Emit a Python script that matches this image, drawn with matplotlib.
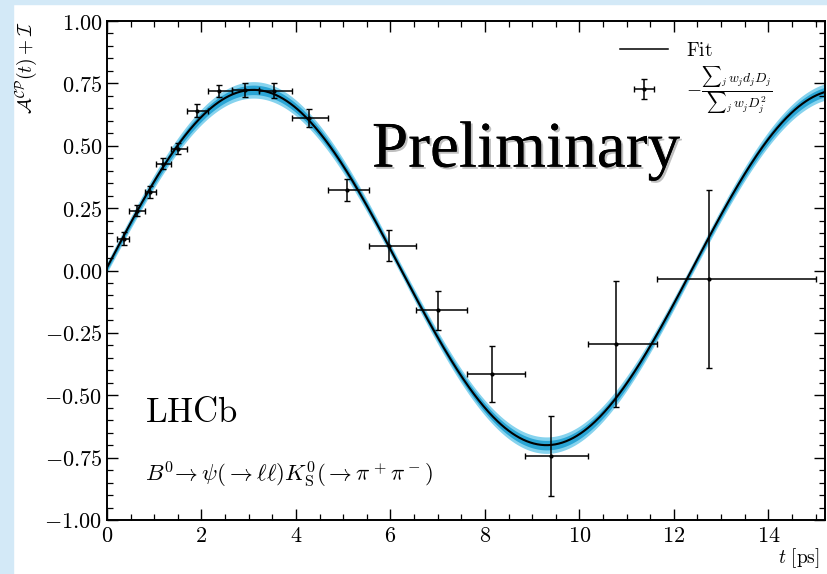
import numpy as np
import matplotlib
matplotlib.use("Agg")
import matplotlib.pyplot as plt
import matplotlib.patheffects as pe
from matplotlib.patches import Rectangle
from matplotlib.ticker import MultipleLocator, FuncFormatter

plt.rcParams['mathtext.fontset'] = 'cm'
plt.rcParams['font.family'] = 'serif'
plt.rcParams['font.serif'] = ['DejaVu Serif']

# data points
t_pts = [0.36, 0.64, 0.92, 1.19, 1.51, 1.91, 2.37, 2.92, 3.53, 4.28, 5.08, 5.98,
         7.01, 8.16, 9.41, 10.77, 12.75]
a_pts = [0.128, 0.240, 0.315, 0.428, 0.488, 0.641, 0.719, 0.724, 0.721, 0.611,
         0.322, 0.100, -0.159, -0.415, -0.744, -0.295, -0.035]
a_err = [0.027, 0.022, 0.023, 0.023, 0.023, 0.025, 0.025, 0.028, 0.031, 0.037,
         0.045, 0.061, 0.078, 0.113, 0.160, 0.252, 0.356]
bin_edges = [0.22, 0.47, 0.80, 1.04, 1.35, 1.70, 2.14, 2.64, 3.22, 3.92, 4.68,
             5.55, 6.55, 7.63, 8.84, 10.18, 11.64, 15.0]

# fit parameters (amplitude, mixing frequency, offset)
fit_amp = 0.712
fit_dm = 0.5065
fit_off = 0.012
band_inner = [0.012, 0.007]   # constant, |sin| term
band_outer = [0.021, 0.012]

t_pts = np.array(t_pts)
lo = t_pts - np.array(bin_edges[:-1])
hi = np.array(bin_edges[1:]) - t_pts

fig = plt.figure(figsize=(8.27, 5.74), dpi=100)
fig.patches.append(Rectangle((0, 0), 13 / 827, 1, transform=fig.transFigure,
                             color='#d3e9f7', zorder=-10))
fig.patches.append(Rectangle((0, 1 - 4 / 574), 1, 4 / 574, transform=fig.transFigure,
                             color='#d3e9f7', zorder=-10))
ax = fig.add_axes([107 / 827, 1 - 520 / 574, 718 / 827, 499 / 574])

t = np.linspace(0, 15.2, 600)
s = np.sin(fit_dm * t)
curve = fit_amp * s + fit_off
w_out = band_outer[0] + band_outer[1] * np.abs(s)
w_in = band_inner[0] + band_inner[1] * np.abs(s)
ax.fill_between(t, curve - w_out, curve + w_out, color='#86d3ee', lw=0)
ax.fill_between(t, curve - w_in, curve + w_in, color='#2aa5d5', lw=0)
ax.plot(t, curve, color='black', lw=1.5)
ax.plot([], [], color='black', lw=1.1, label=r'$\mathrm{Fit}$')

ax.errorbar(t_pts, a_pts, xerr=[lo, hi], yerr=a_err, fmt='.', color='black',
            ms=4, lw=1.1, capsize=2.5, capthick=1.0,
            label=r'$-\frac{{\sum}_j\, w_j d_j D_j}{{\sum}_j\, w_j D_j^2}$')

ax.set_xlim(0, 15.2)
ax.set_ylim(-1, 1)
ax.xaxis.set_major_locator(MultipleLocator(2))
ax.xaxis.set_minor_locator(MultipleLocator(0.5))
ax.yaxis.set_major_locator(MultipleLocator(0.25))
ax.yaxis.set_minor_locator(MultipleLocator(0.05))
ax.xaxis.set_major_formatter(FuncFormatter(lambda v, _: f"${v:g}$"))
ax.yaxis.set_major_formatter(FuncFormatter(lambda v, _: f"${v:.2f}$"))
ax.tick_params(which='both', direction='in', top=True, right=True, labelsize=16)
ax.tick_params(which='major', length=8, width=1.0)
ax.tick_params(which='minor', length=4, width=0.9)
for sp in ax.spines.values():
    sp.set_linewidth(1.4)

ax.set_ylabel(r'$\mathcal{A}^{\mathcal{CP}}(t) + \mathcal{I}$', loc='top', fontsize=14)
ax.set_xlabel(r'$t\ [\mathrm{ps}]$', loc='right', fontsize=14)
ax.xaxis.set_label_coords(0.992, -0.052)

ax.legend(loc='upper left', frameon=False, fontsize=14, handlelength=2.5,
          handletextpad=0.9, borderpad=0, borderaxespad=0, labelspacing=0.25,
          bbox_to_anchor=(0.714, 0.958))

ax.text(0.053, 0.196, r'$\mathrm{LHCb}$', transform=ax.transAxes, fontsize=25)
ax.text(0.053, 0.078, r'$B^0\!\to\psi(\to\ell\ell)K^0_\mathrm{S}(\to\pi^+\pi^-)$',
        transform=ax.transAxes, fontsize=16.5)
ax.text(0.369, 0.708, 'Preliminary', transform=ax.transAxes, fontsize=47,
        family='Liberation Serif', va='baseline',
        path_effects=[pe.withSimplePatchShadow(offset=(1.5, -1.5), alpha=0.25),
                      pe.Normal()])

fig.savefig('out.png', dpi=100)
